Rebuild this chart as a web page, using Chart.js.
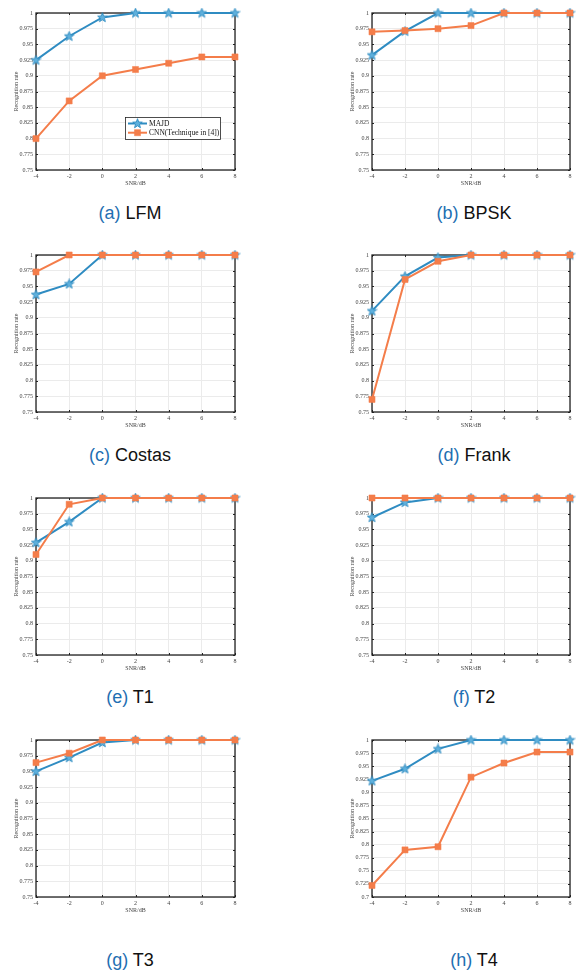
<!DOCTYPE html>
<html>
<head>
<meta charset="utf-8">
<script src="https://cdn.jsdelivr.net/npm/chart.js@4.4.1/dist/chart.umd.min.js"></script>
<style>
  body { margin: 0; background: #fff; width: 579px; height: 973px; position: relative; overflow: hidden; }
  canvas.panel { position: absolute; }
  .cap { position: absolute; font-family: "Liberation Sans", Arial, sans-serif; font-size: 18px; color: #111;
         transform: translate(-50%, -50%); white-space: nowrap; }
  .cap span { color: #1f6fb2; }
</style>
</head>
<body>
<script>
// SNR sweep shared by every panel
const SNR = [-4, -2, 0, 2, 4, 6, 8];
const SERIES = ['MAJD', 'CNN(Technique in [4])'];
const TAGS = ['(a)', '(b)', '(c)', '(d)', '(e)', '(f)', '(g)', '(h)'];
const SIGNALS = ['LFM', 'BPSK', 'Costas', 'Frank', 'T1', 'T2', 'T3', 'T4'];
const Y_MIN = [0.75, 0.75, 0.75, 0.75, 0.75, 0.75, 0.75, 0.7];

// recognition rate per signal type
const majdLFM = [0.925, 0.963, 0.993, 1, 1, 1, 1];
const cnnLFM = [0.8, 0.86, 0.9, 0.91, 0.92, 0.93, 0.93];
const majdBPSK = [0.933, 0.971, 1, 1, 1, 1, 1];
const cnnBPSK = [0.97, 0.972, 0.975, 0.98, 1, 1, 1];
const majdCostas = [0.937, 0.954, 1, 1, 1, 1, 1];
const cnnCostas = [0.973, 1, 1, 1, 1, 1, 1];
const majdFrank = [0.911, 0.966, 0.996, 1, 1, 1, 1];
const cnnFrank = [0.77, 0.961, 0.99, 1, 1, 1, 1];
const majdT1 = [0.929, 0.962, 1, 1, 1, 1, 1];
const cnnT1 = [0.91, 0.99, 1, 1, 1, 1, 1];
const majdT2 = [0.969, 0.993, 1, 1, 1, 1, 1];
const cnnT2 = [1, 1, 1, 1, 1, 1, 1];
const majdT3 = [0.95, 0.972, 0.996, 1, 1, 1, 1];
const cnnT3 = [0.964, 0.979, 1, 1, 1, 1, 1];
const majdT4 = [0.922, 0.945, 0.983, 1, 1, 1, 1];
const cnnT4 = [0.722, 0.79, 0.796, 0.929, 0.956, 0.977, 0.977];

const MAJD = [majdLFM, majdBPSK, majdCostas, majdFrank, majdT1, majdT2, majdT3, majdT4];
const CNN = [cnnLFM, cnnBPSK, cnnCostas, cnnFrank, cnnT1, cnnT2, cnnT3, cnnT4];

const BLUE = '#2f8cc2';
const ORANGE = '#f47d4a';
const SERIF = '"Liberation Serif", "Times New Roman", serif';

const ROW_TOP = [13, 255, 498, 740];
const CAP_Y = [213, 455, 697, 960];

function makeStar(fill, stroke) {
  const c = document.createElement('canvas');
  c.width = 11; c.height = 11;
  const g = c.getContext('2d');
  g.beginPath();
  for (let i = 0; i < 10; i++) {
    const r = i % 2 ? 2.1 : 5;
    const a = -Math.PI / 2 + i * Math.PI / 5;
    g.lineTo(5.5 + r * Math.cos(a), 5.7 + r * Math.sin(a));
  }
  g.closePath();
  g.fillStyle = fill; g.fill();
  g.lineWidth = 0.9; g.strokeStyle = stroke; g.stroke();
  return c;
}
const starImg = makeStar('#5fb0dc', BLUE);

// box frame + inward ticks on all four sides
const framePlugin = {
  id: 'frame',
  beforeDatasetsDraw(chart) {
    const { ctx, chartArea: a, scales: { x, y } } = chart;
    ctx.save();
    ctx.strokeStyle = '#222';
    ctx.lineWidth = 1;
    x.ticks.forEach(t => {
      const px = Math.round(x.getPixelForValue(t.value)) + 0.5;
      ctx.beginPath();
      ctx.moveTo(px, a.bottom); ctx.lineTo(px, a.bottom - 2);
      ctx.moveTo(px, a.top); ctx.lineTo(px, a.top + 2);
      ctx.stroke();
    });
    y.ticks.forEach(t => {
      const py = Math.round(y.getPixelForValue(t.value)) + 0.5;
      ctx.beginPath();
      ctx.moveTo(a.left, py); ctx.lineTo(a.left + 2, py);
      ctx.moveTo(a.right, py); ctx.lineTo(a.right - 2, py);
      ctx.stroke();
    });
    ctx.lineWidth = 1.3;
    ctx.strokeRect(a.left, a.top, a.right - a.left, a.bottom - a.top);
    ctx.restore();
  }
};

// legend box drawn inside the plot area
const boxLegend = {
  id: 'boxLegend',
  afterDatasetsDraw(chart, args, opts) {
    if (!opts.show) return;
    const { ctx } = chart;
    ctx.save();
    ctx.fillStyle = '#fff';
    ctx.fillRect(opts.x, opts.y, opts.w, opts.h);
    ctx.strokeStyle = '#222';
    ctx.lineWidth = 0.8;
    ctx.strokeRect(opts.x + 0.5, opts.y + 0.5, opts.w, opts.h);
    chart.data.datasets.forEach((ds, i) => {
      const cy = opts.y + 6.5 + i * 9.2;
      ctx.strokeStyle = ds.borderColor;
      ctx.lineWidth = 2;
      ctx.beginPath();
      ctx.moveTo(opts.x + 3, cy); ctx.lineTo(opts.x + 22, cy);
      ctx.stroke();
      ctx.fillStyle = ds.backgroundColor;
      ctx.lineWidth = 0.5;
      Chart.helpers.drawPoint(ctx, {
        pointStyle: ds.pointStyle, radius: ds.pointRadius, borderWidth: 0.5
      }, opts.x + 12.5, cy);
      ctx.fillStyle = '#111';
      ctx.font = '7.5px ' + SERIF;
      ctx.textBaseline = 'middle';
      ctx.fillText(ds.label, opts.x + 24, cy + 0.5);
    });
    ctx.restore();
  }
};

function buildPanel(i) {
  const col = i % 2, row = Math.floor(i / 2);
  const W = col === 0 ? 290 : 289;
  const plotLeft = col === 0 ? 36 : 82;
  const plotRight = col === 0 ? 235 : 280;

  const cv = document.createElement('canvas');
  cv.className = 'panel';
  cv.width = W; cv.height = 195;
  cv.style.left = (col * 290) + 'px';
  cv.style.top = (ROW_TOP[row] - 13) + 'px';
  document.body.appendChild(cv);

  const cap = document.createElement('div');
  cap.className = 'cap';
  cap.style.left = (col === 0 ? 130 : 474) + 'px';
  cap.style.top = CAP_Y[row] + 'px';
  cap.innerHTML = '<span>' + TAGS[i] + '</span> ' + SIGNALS[i];
  document.body.appendChild(cap);

  const tickFont = { family: SERIF, size: 6 };

  new Chart(cv, {
    type: 'line',
    data: {
      datasets: [
        {
          label: SERIES[0],
          data: SNR.map((x, k) => ({ x, y: MAJD[i][k] })),
          borderColor: BLUE, backgroundColor: '#5fb0dc',
          borderWidth: 2, pointStyle: starImg, pointRadius: 5,
          order: 1, clip: false
        },
        {
          label: SERIES[1],
          data: SNR.map((x, k) => ({ x, y: CNN[i][k] })),
          borderColor: ORANGE, backgroundColor: ORANGE,
          borderWidth: 2, pointStyle: 'rect', pointRadius: 4.3,
          pointBorderWidth: 0.5, order: 0, clip: false
        }
      ]
    },
    options: {
      responsive: false,
      animation: false,
      layout: { padding: { top: 13, right: W - plotRight, bottom: 0, left: 0 } },
      plugins: {
        legend: { display: false },
        tooltip: { enabled: false },
        boxLegend: { show: i === 0, x: 125, y: 117, w: 95, h: 22 }
      },
      scales: {
        x: {
          type: 'linear', min: -4, max: 8,
          ticks: { stepSize: 2, font: tickFont, color: '#444', padding: 3, maxRotation: 0 },
          grid: { color: '#ebebeb', drawTicks: false },
          border: { display: false },
          title: { display: true, text: 'SNR/dB', font: tickFont, color: '#444', padding: { top: 0, bottom: 8.4 } },
          afterFit(s) { s.height = 25; s.paddingLeft = 0; s.paddingRight = 0; }
        },
        y: {
          min: Y_MIN[i], max: 1,
          ticks: {
            stepSize: 0.025, font: tickFont, color: '#444', padding: 3,
            callback: v => String(+v.toFixed(3))
          },
          grid: { color: '#ebebeb', drawTicks: false },
          border: { display: false },
          title: {
            display: true, text: 'Recognition rate', font: tickFont, color: '#444',
            padding: { top: (col === 0 ? 16.5 : 62) - 3.6, bottom: 0 }
          },
          afterFit(s) { s.width = plotLeft; s.paddingTop = 0; s.paddingBottom = 0; }
        }
      }
    },
    plugins: [framePlugin, boxLegend]
  });
}

for (let i = 0; i < 8; i++) buildPanel(i);
</script>
</body>
</html>
